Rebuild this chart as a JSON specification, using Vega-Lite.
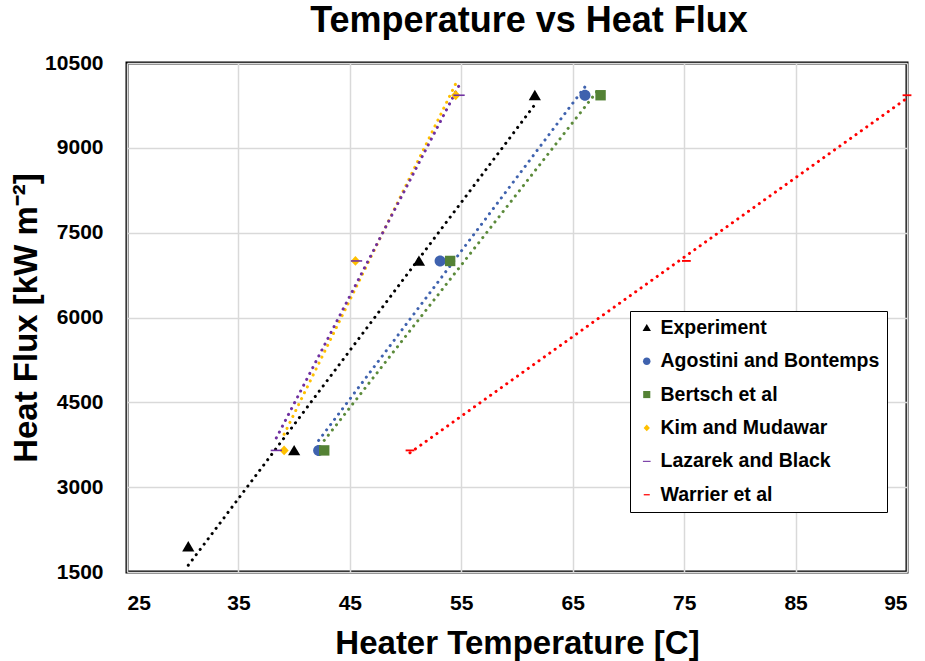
{
  "$schema": "https://vega.github.io/schema/vega-lite/v6.json",
  "width": 780,
  "height": 509,
  "autosize": {"type": "none"},
  "padding": {"left": 127, "top": 63, "right": 18, "bottom": 89},
  "background": "white",
  "config": {
    "view": {"stroke": "black", "strokeWidth": 3},
    "font": "Liberation Sans",
    "axis": {
      "domain": false,
      "grid": true,
      "gridColor": "#D9D9D9",
      "gridWidth": 1.5,
      "ticks": false,
      "labelFont": "Liberation Sans",
      "labelFontSize": 21,
      "labelFontWeight": "bold",
      "labelColor": "black",
      "titleFont": "Liberation Sans",
      "titleFontSize": 33,
      "titleFontWeight": "bold",
      "titleColor": "black"
    }
  },
  "title": {
    "text": "Temperature vs Heat Flux",
    "fontSize": 36,
    "fontWeight": "bold",
    "color": "black",
    "font": "Liberation Sans",
    "anchor": "middle",
    "dx": 12,
    "offset": 12
  },
  "data": {
    "values": [
      {"series": "Experiment", "temp": 30.5, "flux": 1950},
      {"series": "Experiment", "temp": 40.0, "flux": 3650},
      {"series": "Experiment", "temp": 51.2, "flux": 7000},
      {"series": "Experiment", "temp": 61.6, "flux": 9930},
      {"series": "Agostini and Bontemps", "temp": 42.2, "flux": 3650},
      {"series": "Agostini and Bontemps", "temp": 53.1, "flux": 7000},
      {"series": "Agostini and Bontemps", "temp": 66.1, "flux": 9930},
      {"series": "Bertsch et al", "temp": 42.7, "flux": 3650},
      {"series": "Bertsch et al", "temp": 54.0, "flux": 7000},
      {"series": "Bertsch et al", "temp": 67.5, "flux": 9930},
      {"series": "Kim and Mudawar", "temp": 39.1, "flux": 3650},
      {"series": "Kim and Mudawar", "temp": 45.5, "flux": 7000},
      {"series": "Kim and Mudawar", "temp": 54.5, "flux": 9930},
      {"series": "Lazarek and Black", "temp": 38.4, "flux": 3650},
      {"series": "Lazarek and Black", "temp": 45.6, "flux": 7000},
      {"series": "Lazarek and Black", "temp": 54.8, "flux": 9930},
      {"series": "Warrier et al", "temp": 50.4, "flux": 3650},
      {"series": "Warrier et al", "temp": 75.2, "flux": 7000},
      {"series": "Warrier et al", "temp": 95.0, "flux": 9930}
    ]
  },
  "encoding": {
    "x": {
      "field": "temp",
      "type": "quantitative",
      "scale": {"domain": [25, 95], "nice": false, "zero": false},
      "axis": {"title": "Heater Temperature [C]", "format": "d", "values": [25, 35, 45, 55, 65, 75, 85, 95], "labelPadding": 20, "titlePadding": 14}
    },
    "y": {
      "field": "flux",
      "type": "quantitative",
      "scale": {"domain": [1500, 10500], "nice": false, "zero": false},
      "axis": {"title": "Heat Flux [kW m⁻²]", "format": "d", "values": [1500, 3000, 4500, 6000, 7500, 9000, 10500], "labelPadding": 24, "titlePadding": 1}
    }
  },
  "layer": [
    {
      "transform": [{"regression": "flux", "on": "temp", "groupby": ["series"]}],
      "mark": {"type": "line", "strokeWidth": 3, "strokeDash": [0.1, 6.5], "strokeCap": "round", "clip": true},
      "encoding": {
        "stroke": {
          "field": "series",
          "type": "nominal",
          "legend": null,
          "scale": {
            "domain": ["Warrier et al", "Lazarek and Black", "Kim and Mudawar", "Bertsch et al", "Agostini and Bontemps", "Experiment"],
            "range": ["#FF0000", "#7030A0", "#FFC000", "#5B8A3A", "#3F62AE", "#000000"]
          }
        },
        "detail": {"field": "series"}
      }
    },
    {
      "mark": {"type": "point", "filled": true, "opacity": 1, "size": 150},
      "encoding": {
        "color": {
          "field": "series",
          "type": "nominal",
          "title": null,
          "scale": {
            "domain": ["Experiment", "Agostini and Bontemps", "Bertsch et al", "Kim and Mudawar", "Lazarek and Black", "Warrier et al"],
            "range": ["#000000", "#3F62AE", "#548235", "#FFC000", "#7030A0", "#FF0000"]
          },
          "legend": {
            "title": null,
            "orient": "none",
            "legendX": 503,
            "legendY": 248,
            "padding": 7,
            "strokeColor": "black",
            "fillColor": "white",
            "labelFont": "Liberation Sans",
            "labelFontSize": 19.5,
            "labelFontWeight": "bold",
            "labelColor": "black",
            "labelOffset": 4,
            "rowPadding": 12.4,
            "symbolSize": 70,
            "labelLimit": 300,
            "encode": {"legend": {"update": {"strokeWidth": {"value": 2.5}, "stroke": {"value": "black"}}}}
          }
        },
        "shape": {
          "field": "series",
          "type": "nominal",
          "title": null,
          "scale": {
            "domain": ["Experiment", "Agostini and Bontemps", "Bertsch et al", "Kim and Mudawar", "Lazarek and Black", "Warrier et al"],
            "range": [
              "M0,-0.9L1,0.8L-1,0.8Z",
              "M0.9,0A0.9,0.9 0 1,1 -0.9,0A0.9,0.9 0 1,1 0.9,0Z",
              "M-0.85,-0.85L0.85,-0.85L0.85,0.85L-0.85,0.85Z",
              "M0,-0.8L0.75,0L0,0.8L-0.75,0Z",
              "M-0.92,-0.13L0.92,-0.13L0.92,0.13L-0.92,0.13Z",
              "M-0.72,-0.15L0.72,-0.15L0.72,0.15L-0.72,0.15Z"
            ]
          }
        }
      }
    }
  ]
}
